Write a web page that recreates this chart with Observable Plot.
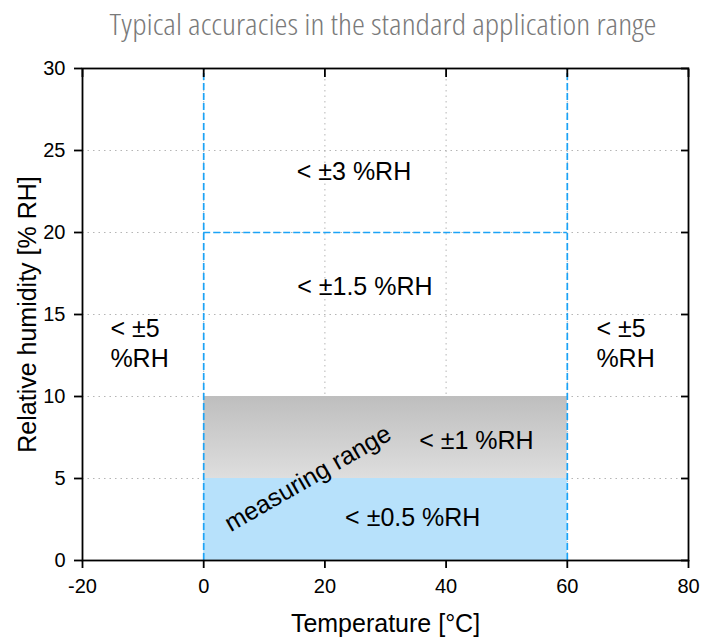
<!DOCTYPE html>
<html><head><meta charset="utf-8">
<script src="https://cdn.jsdelivr.net/npm/d3@7"></script>
<script src="https://cdn.jsdelivr.net/npm/@observablehq/plot@0.6"></script>
<style>
body{margin:0;background:#fff;}
#titlebox{height:45px;line-height:47px;text-align:center;padding-left:63px;white-space:nowrap;overflow:visible;}
#title{display:inline-block;font-family:"Open Sans",sans-serif;font-weight:300;font-stretch:condensed;font-size:29px;color:#7a7a7a;transform:scaleX(1.13);transform-origin:center;}
</style>
</head><body>
<div id="titlebox"><span id="title">Typical accuracies in the standard application range</span></div>
<div id="chart"></div>
<script>
const titleText = "Typical accuracies in the standard application range";
const xLabel = "Temperature [°C]";
const yLabel = "Relative humidity [% RH]";
const xDomain = [-20, 80];
const yDomain = [0, 30];
const xTicks = [-20, 0, 20, 40, 60, 80];
const yTicks = [0, 5, 10, 15, 20, 25, 30];

// standard application range bounds
const rangeX = [0, 60];
const rangeY20 = [20];
// measuring range bands
const bandX1 = [0, 0];
const bandX2 = [60, 60];
const bandY1 = [0, 5];
const bandY2 = [5, 10];
const bandFill = ["#b7e1fb", "url(#grayGrad)"];

// accuracy labels
const zoneText = ["< ±3 %RH", "< ±1.5 %RH", "< ±1 %RH", "< ±0.5 %RH"];
const zoneX = [24.8, 26.6, 45, 34.5];
const zoneY = [23.7, 16.7, 7.3, 2.6];
const sideText = ["< ±5\n%RH", "< ±5\n%RH"];
const sideX = [-15.4, 64.8];
const sideY = [13.3, 13.3];
const measText = ["measuring range"];
const measX = [17.2];
const measY = [5.0];

const bands = bandX1.map((d, i) => ({x1: d, x2: bandX2[i], y1: bandY1[i], y2: bandY2[i], fill: bandFill[i]}));
const zones = zoneText.map((t, i) => ({t, x: zoneX[i], y: zoneY[i]}));
const sides = sideText.map((t, i) => ({t, x: sideX[i], y: sideY[i]}));
const meas = measText.map((t, i) => ({t, x: measX[i], y: measY[i]}));

const blue = "#1ba3f6";
const font = "'Liberation Sans', Arial, sans-serif";

const plot = Plot.plot({
  width: 703, height: 592,
  marginTop: 23, marginRight: 15, marginBottom: 77, marginLeft: 82,
  style: {fontFamily: font, fontSize: "20px", color: "#000", background: "#fff", overflow: "visible"},
  x: {domain: xDomain, ticks: xTicks},
  y: {domain: yDomain, ticks: yTicks},
  marks: [
    Plot.gridX(xTicks.slice(1, -1), {stroke: "#b5b5b5", strokeOpacity: 1, strokeDasharray: "1.5,4"}),
    Plot.gridY(yTicks.slice(1, -1), {stroke: "#b5b5b5", strokeOpacity: 1, strokeDasharray: "1.5,4"}),
    Plot.rect(bands, {x1: "x1", x2: "x2", y1: "y1", y2: "y2", fill: d => d.fill}),
    Plot.ruleX(rangeX, {y1: yDomain[0], y2: yDomain[1], stroke: blue, strokeWidth: 1.7, strokeDasharray: "7,3"}),
    Plot.ruleY(rangeY20, {x1: rangeX[0], x2: rangeX[1], stroke: blue, strokeWidth: 1.7, strokeDasharray: "7,3"}),
    Plot.frame({stroke: "#000", strokeWidth: 1.8}),
    Plot.axisX(xTicks, {anchor: "bottom", tickSize: 8, tickPadding: 10, label: null, fontSize: 20, strokeWidth: 1.8, tickFormat: d => String(d)}),
    Plot.axisX(xTicks, {anchor: "top", tickSize: -8, tickFormat: () => "", label: null, strokeWidth: 1.8}),
    Plot.axisY(yTicks, {anchor: "left", tickSize: 8, tickPadding: 9, label: null, fontSize: 20, strokeWidth: 1.8, tickFormat: d => String(d)}),
    Plot.axisY(yTicks, {anchor: "right", tickSize: -8, tickFormat: () => "", label: null, strokeWidth: 1.8}),
    Plot.text(zones, {x: "x", y: "y", text: "t", fontSize: 25, fill: "#000"}),
    Plot.text(sides, {x: "x", y: "y", text: "t", fontSize: 25, fill: "#000", textAnchor: "start", lineHeight: 1.2}),
    Plot.text(meas, {x: "x", y: "y", text: "t", fontSize: 25, fill: "#000", rotate: -30}),
    Plot.text([yLabel], {frameAnchor: "left", dx: -55, rotate: -90, textAnchor: "middle", lineAnchor: "middle", fontSize: 25, fill: "#000"}),
    Plot.text([xLabel], {frameAnchor: "bottom", dy: 63, textAnchor: "middle", lineAnchor: "middle", fontSize: 25, fill: "#000"})
  ]
});

const defs = d3.select(plot).insert("defs", ":first-child");
const grad = defs.append("linearGradient").attr("id", "grayGrad")
  .attr("x1", 0).attr("y1", 0).attr("x2", 0).attr("y2", 1);
grad.append("stop").attr("offset", "0%").attr("stop-color", "#bebebe");
grad.append("stop").attr("offset", "100%").attr("stop-color", "#dedede");

document.getElementById("title").textContent = titleText;
document.getElementById("chart").appendChild(plot);
</script>
</body></html>
